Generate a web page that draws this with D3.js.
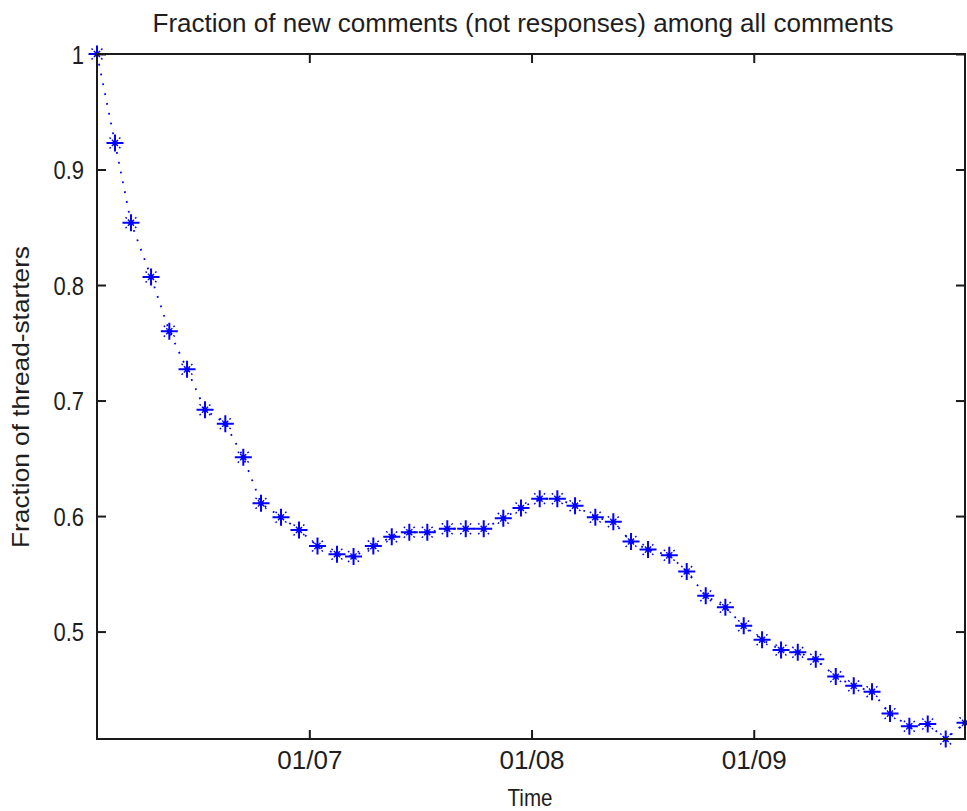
<!DOCTYPE html>
<html>
<head>
<meta charset="utf-8">
<script src="https://cdn.jsdelivr.net/npm/d3@7"></script>
<style>
  html, body { margin: 0; padding: 0; background: #fff; }
  svg { display: block; }
  text { font-family: "Liberation Sans", Arial, sans-serif; fill: #1e1e1e; }
</style>
</head>
<body>
<svg id="chart" width="967" height="811"></svg>
<script>
// ---- data ----
const baseDate = "2009-07-01";
// days since baseDate for each sample
const dayOffsets = [
  -29.62, -27.11, -24.88, -22.08, -19.53, -17.06, -14.55, -11.72, -9.21, -6.74,
  -3.95, -1.44, 1.14, 3.86, 6.17, 8.93, 11.50, 13.95, 16.46, 19.25,
  21.82, 24.33, 27.06, 29.53, 32.14, 34.60, 37.07, 39.90, 42.41, 44.88,
  47.25, 50.22, 52.65, 55.30, 58.04, 60.60, 63.16, 65.81, 68.14, 70.65,
  73.44, 75.95, 78.50, 81.01, 83.71, 86.27, 88.78, 91.47
];
const fractionValues = [
  1.000, 0.923, 0.854, 0.807, 0.760, 0.727, 0.692, 0.680, 0.651, 0.611,
  0.599, 0.588, 0.574, 0.567, 0.565, 0.574, 0.582, 0.586, 0.586, 0.589,
  0.589, 0.589, 0.598, 0.607, 0.615, 0.615, 0.609, 0.599, 0.595, 0.578,
  0.571, 0.566, 0.552, 0.531, 0.521, 0.505, 0.493, 0.484, 0.482, 0.476,
  0.461, 0.453, 0.448, 0.429, 0.418, 0.420, 0.407, 0.421
];
const xTickDates = ["2009-07-01", "2009-08-01", "2009-09-01"];
const yTickValues = [0.5, 0.6, 0.7, 0.8, 0.9, 1];
const titleText = "Fraction of new comments (not responses) among all comments";
const xLabelText = "Time";
const yLabelText = "Fraction of thread-starters";

// ---- layout ----
const L = 97, R = 965, T = 54, B = 739;
const svg = d3.select("#chart");
const base = new Date(baseDate + "T00:00:00Z").getTime();
const data = dayOffsets.map((d, i) => ({ t: new Date(base + d * 864e5), v: fractionValues[i] }));

const x = d3.scaleUtc().domain(d3.extent(data, d => d.t)).range([L, R]);
const y = d3.scaleLinear().domain([d3.min(fractionValues), d3.max(fractionValues)]).range([B, T]);
const tickDates = xTickDates.map(s => new Date(s + "T00:00:00Z"));
const fmt = d3.utcFormat("%d/%m");

// ---- dotted line ----
svg.append("path")
  .datum(data)
  .attr("fill", "none")
  .attr("stroke", "#0000ff")
  .attr("stroke-width", 1.8)
  .attr("stroke-dasharray", "1.8 8.2")
  .attr("d", d3.line().x(d => x(d.t)).y(d => y(d.v)));

// ---- asterisk markers ----
const mk = svg.append("g").selectAll("g").data(data).join("g")
  .attr("transform", d => `translate(${x(d.t)},${y(d.v)})`)
  .attr("stroke", "#0000ff");
mk.append("path").attr("d", "M-8.5,0H8.5M0,-8.5V8.5").attr("stroke-width", 2);
mk.append("path").attr("d", "M-5.5,-5.5L5.5,5.5M-5.5,5.5L5.5,-5.5").attr("stroke-width", 1.4).attr("stroke-dasharray", "1.8 1.6");
mk.append("circle").attr("r", 2.6).attr("fill", "#0000ff").attr("stroke", "none");

// ---- axes ----
const axisColor = "#1a1a1a";
const fontSize = 25;
const xb = d3.axisBottom(x).tickValues(tickDates).tickFormat(fmt).tickSizeInner(-9).tickSizeOuter(0).tickPadding(12);
const gx = svg.append("g").attr("transform", `translate(0,${B})`).call(xb);
const xt = d3.axisTop(x).tickValues(tickDates).tickFormat("").tickSizeInner(-9).tickSizeOuter(0);
const gxt = svg.append("g").attr("transform", `translate(0,${T})`).call(xt);
const yl = d3.axisLeft(y).tickValues(yTickValues).tickFormat(d3.format("")).tickSizeInner(-9).tickSizeOuter(0).tickPadding(13);
const gy = svg.append("g").attr("transform", `translate(${L},0)`).call(yl);
const yr = d3.axisRight(y).tickValues(yTickValues).tickFormat("").tickSizeInner(-9).tickSizeOuter(0);
const gyr = svg.append("g").attr("transform", `translate(${R},0)`).call(yr);
[gx, gxt, gy, gyr].forEach(g => {
  g.select(".domain").remove();
  g.selectAll(".tick line").attr("stroke", axisColor).attr("stroke-width", 2);
  g.selectAll(".tick text").attr("font-size", fontSize)
    .attr("font-family", '"Liberation Sans", Arial, sans-serif').attr("fill", "#1e1e1e");
});
gy.selectAll(".tick text").attr("dy", "0.36em");
gx.selectAll(".tick text").attr("dy", "0.71em");
// condense glyphs (narrow font look)
gy.selectAll(".tick text").each(function () {
  const w = this.getComputedTextLength();
  d3.select(this).attr("textLength", w * 0.88).attr("lengthAdjust", "spacingAndGlyphs");
});
gx.selectAll(".tick text").each(function () {
  const w = this.getComputedTextLength();
  d3.select(this).attr("textLength", w * 1.04).attr("lengthAdjust", "spacingAndGlyphs");
});

// box
svg.append("rect").attr("x", L).attr("y", T).attr("width", R - L).attr("height", B - T)
  .attr("fill", "none").attr("stroke", axisColor).attr("stroke-width", 2);

// ---- labels ----
svg.append("text").attr("x", 523).attr("y", 32).attr("text-anchor", "middle")
  .attr("font-size", 25).attr("textLength", 741).attr("lengthAdjust", "spacingAndGlyphs")
  .text(titleText);
svg.append("text").attr("x", 530).attr("y", 806).attr("text-anchor", "middle")
  .attr("font-size", 24).attr("textLength", 45).attr("lengthAdjust", "spacingAndGlyphs").text(xLabelText);
const ylab = svg.append("text").attr("transform", "translate(29,397) rotate(-90)")
  .attr("text-anchor", "middle").attr("font-size", 24).text(yLabelText);
ylab.attr("textLength", 302).attr("lengthAdjust", "spacingAndGlyphs");
</script>
</body>
</html>
